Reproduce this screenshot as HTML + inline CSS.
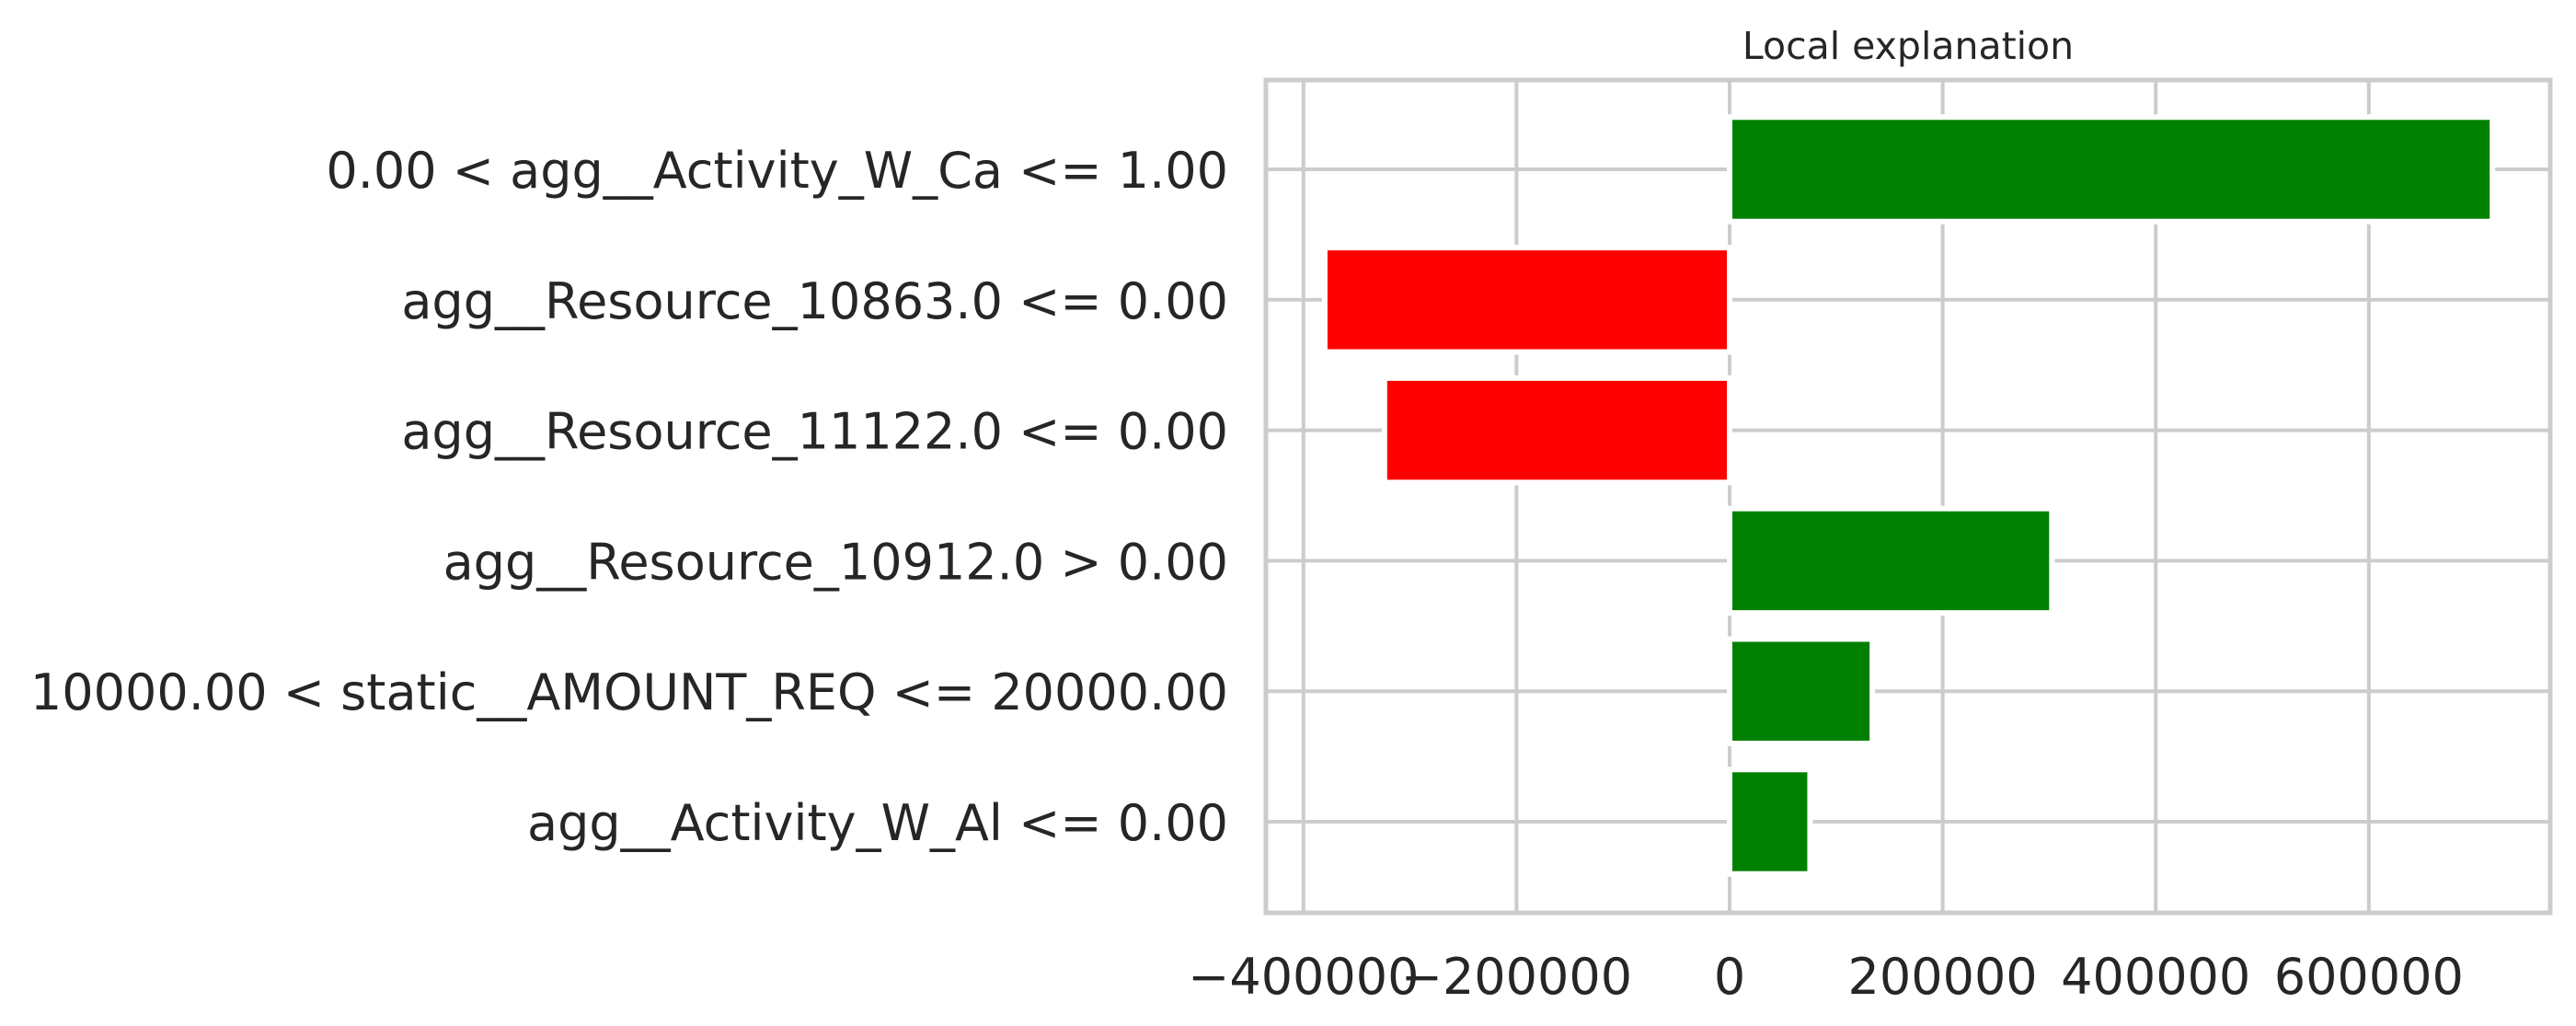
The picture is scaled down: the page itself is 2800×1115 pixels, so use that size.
<!DOCTYPE html>
<html><head><meta charset="utf-8"><style>
html,body{margin:0;padding:0;background:#fff;}
svg{display:block;}
text{font-family:"DejaVu Sans","Liberation Sans",sans-serif;fill:#262626;}
</style></head><body>
<svg id="chart" width="2800" height="1115" viewBox="0 0 2800 1115" xmlns="http://www.w3.org/2000/svg">
<g id="grid"></g><g id="bars"></g><g id="labels"></g>
</svg>
<script>
const categories = ["0.00 < agg__Activity_W_Ca <= 1.00","agg__Resource_10863.0 <= 0.00","agg__Resource_11122.0 <= 0.00","agg__Resource_10912.0 > 0.00","10000.00 < static__AMOUNT_REQ <= 20000.00","agg__Activity_W_Al <= 0.00"];
const values = [716000, -380000, -324000, 302500, 134000, 75500];
const xTicks = [-400000, -200000, 0, 200000, 400000, 600000];
const xTickLabels = ["\u2212400000","\u2212200000","0","200000","400000","600000"];

const L=1376,R=2772,T=87,B=992;
const x0=1880, xs=231.6/200000;
function X(v){return x0+v*xs;}
const n=categories.length;
const rowH=141.8, topC=184;
function Y(i){return topC+i*rowH;}
const NS="http://www.w3.org/2000/svg";
function mk(tag,attrs,parent){const e=document.createElementNS(NS,tag);for(const k in attrs)e.setAttribute(k,attrs[k]);parent.appendChild(e);return e;}
const grid=document.getElementById('grid'),bars=document.getElementById('bars'),labels=document.getElementById('labels'),svg=document.getElementById('chart');

xTicks.forEach((t,i)=>{
  const l=mk('line',{x1:X(t),x2:X(t),y1:T,y2:B,stroke:'#cccccc','stroke-width':4},grid);
  
  
  const tx=mk('text',{x:X(t),y:1080,'text-anchor':'middle','font-size':54},labels);
  tx.textContent=xTickLabels[i];
  
  
});
categories.forEach((c,i)=>{
  const l=mk('line',{x1:L,x2:R,y1:Y(i),y2:Y(i),stroke:'#cccccc','stroke-width':4},grid);
  
  
  const tx=mk('text',{x:1335,y:Y(i)+20,'text-anchor':'end','font-size':54},labels);
  tx.textContent=c;
  
  
});
values.forEach((v,i)=>{
  const h=0.8*rowH;
  const r=mk('rect',{x:Math.min(X(0),X(v)),y:Y(i)-h/2,width:Math.abs(X(v)-X(0)),height:h,fill:v>=0?'#008000':'#ff0000',stroke:'#ffffff','stroke-width':6},bars);
  
  
});
const fr=mk('rect',{x:L,y:T,width:R-L,height:B-T,fill:'none',stroke:'#cccccc','stroke-width':5},svg);


const tt=mk('text',{x:(L+R)/2,y:64,'text-anchor':'middle','font-size':41},labels);
tt.textContent='Local explanation';


</script>
</body></html>
